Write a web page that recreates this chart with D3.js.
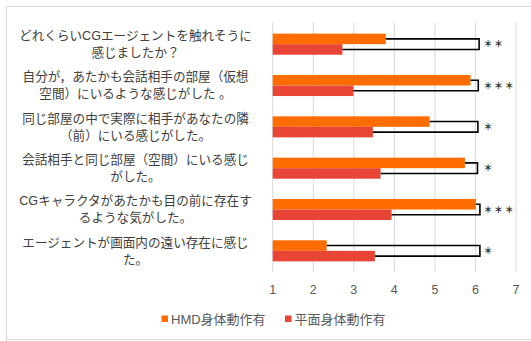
<!DOCTYPE html>
<html>
<head>
<meta charset="utf-8">
<script src="https://cdn.jsdelivr.net/npm/d3@7"></script>
<style>
  body { margin: 0; background: #fff; }
  text { font-family: "Liberation Sans", "Noto Sans CJK JP", sans-serif; }
</style>
</head>
<body>
<script>
// questionnaire items, two text lines each
var items = [
    ["どれくらいCGエージェントを触れそうに", "感じましたか？"],
    ["自分が，あたかも会話相手の部屋（仮想", "空間）にいるような感じがした 。"],
    ["同じ部屋の中で実際に相手があなたの隣", "（前）にいる感じがした。"],
    ["会話相手と同じ部屋（空間）にいる感じ", "がした。"],
    ["CGキャラクタがあたかも目の前に存在す", "るような気がした。"],
    ["エージェントが画面内の遠い存在に感じ", "た。"]
];
var seriesNames = ["HMD身体動作有", "平面身体動作有"];
var hmdValues = [3.79, 5.88, 4.87, 5.74, 6.01, 2.33];
var flatValues = [2.72, 2.99, 3.47, 3.66, 3.93, 3.52];
var bracketX = [6.09, 6.07, 6.06, 6.05, 6.11, 6.11];
var signif = ["＊＊", "＊＊＊", "＊", "＊", "＊＊＊", "＊"];
var xTicks = [1, 2, 3, 4, 5, 6, 7];
var colors = ["#FF6D00", "#E84536"];

var w = 531;
var h = 341;

var svg = d3.select("body")
    .append("svg")
    .attr("width", w)
    .attr("height", h);

// chart frame
svg.append("rect")
    .attr("x", 6.5)
    .attr("y", 6.5)
    .attr("width", 540)
    .attr("height", 333)
    .attr("fill", "none")
    .attr("stroke", "#d9d9d9");

var xScale = d3.scaleLinear()
    .domain([1, 7])
    .range([272.7, 516]);

var yScale = d3.scaleBand()
    .domain(d3.range(items.length))
    .range([23, 272])
    .paddingInner(0.49)
    .paddingOuter(0.257);

var barH = yScale.bandwidth() / 2;

// vertical gridlines
svg.selectAll(".grid")
    .data(xTicks)
    .enter()
    .append("line")
    .attr("class", "grid")
    .attr("x1", function(d){ return xScale(d); })
    .attr("x2", function(d){ return xScale(d); })
    .attr("y1", 22.5)
    .attr("y2", 272)
    .attr("stroke", "#d9d9d9")
    .attr("stroke-width", 1);

// tick labels along the bottom
svg.selectAll(".tick-label")
    .data(xTicks)
    .enter()
    .append("text")
    .attr("class", "tick-label")
    .attr("x", function(d){ return xScale(d); })
    .attr("y", 290)
    .attr("dy", "0.35em")
    .attr("text-anchor", "middle")
    .attr("font-size", 12.5)
    .attr("fill", "#595959")
    .text(function(d){ return d; });

// HMD bars (upper in each group)
svg.selectAll(".bar-hmd")
    .data(hmdValues)
    .enter()
    .append("rect")
    .attr("class", "bar-hmd")
    .attr("x", xScale(1))
    .attr("y", function(d, i){ return yScale(i); })
    .attr("width", function(d){ return xScale(d) - xScale(1); })
    .attr("height", barH)
    .attr("fill", colors[0]);

// flat-screen bars (lower in each group)
svg.selectAll(".bar-flat")
    .data(flatValues)
    .enter()
    .append("rect")
    .attr("class", "bar-flat")
    .attr("x", xScale(1))
    .attr("y", function(d, i){ return yScale(i) + barH; })
    .attr("width", function(d){ return xScale(d) - xScale(1); })
    .attr("height", barH)
    .attr("fill", colors[1]);

// significance brackets joining the two bars
svg.selectAll(".bracket")
    .data(items)
    .enter()
    .append("path")
    .attr("class", "bracket")
    .attr("d", function(d, i){
        var y1 = yScale(i) + barH / 2;
        var y2 = yScale(i) + barH * 1.5;
        var bx = xScale(bracketX[i]);
        return "M" + xScale(hmdValues[i]) + "," + y1 +
            "H" + bx + "V" + y2 + "H" + xScale(flatValues[i]);
    })
    .attr("fill", "none")
    .attr("stroke", "#000")
    .attr("stroke-width", 1.6);

svg.selectAll(".stars")
    .data(signif)
    .enter()
    .append("text")
    .attr("class", "stars")
    .attr("x", 483.5)
    .attr("y", function(d, i){ return yScale(i) + barH; })
    .attr("dy", "0.35em")
    .attr("font-family", "Noto Sans CJK JP")
    .attr("font-size", 9)
    .attr("font-weight", "bold")
    .attr("letter-spacing", 1.6)
    .attr("fill", "#222")
    .text(function(d){ return d; });

// category labels, centred on the left
var labels = svg.selectAll(".cat")
    .data(items)
    .enter()
    .append("text")
    .attr("class", "cat")
    .attr("text-anchor", "middle")
    .attr("font-size", 12.6)
    .attr("fill", "#404040");

labels.selectAll("tspan")
    .data(function(d, i){
        return d.map(function(s, j){ return { s: s, row: i, line: j }; });
    })
    .enter()
    .append("tspan")
    .attr("x", 135.5)
    .attr("y", function(d){
        return yScale(d.row) + barH + (d.line === 0 ? -8.5 : 8.5);
    })
    .attr("dy", "0.35em")
    .text(function(d){ return d.s; });

// legend
var legendX = [161.5, 285];
var legend = svg.selectAll(".legend")
    .data(seriesNames)
    .enter()
    .append("g")
    .attr("class", "legend")
    .attr("transform", function(d, i){ return "translate(" + legendX[i] + ",319)"; });

legend.append("rect")
    .attr("x", 0)
    .attr("y", -3.5)
    .attr("width", 6.5)
    .attr("height", 6.5)
    .attr("fill", function(d, i){ return colors[i]; });

legend.append("text")
    .attr("x", 9.5)
    .attr("dy", "0.35em")
    .attr("font-size", 13)
    .attr("fill", "#595959")
    .text(function(d){ return d; });
</script>
</body>
</html>
